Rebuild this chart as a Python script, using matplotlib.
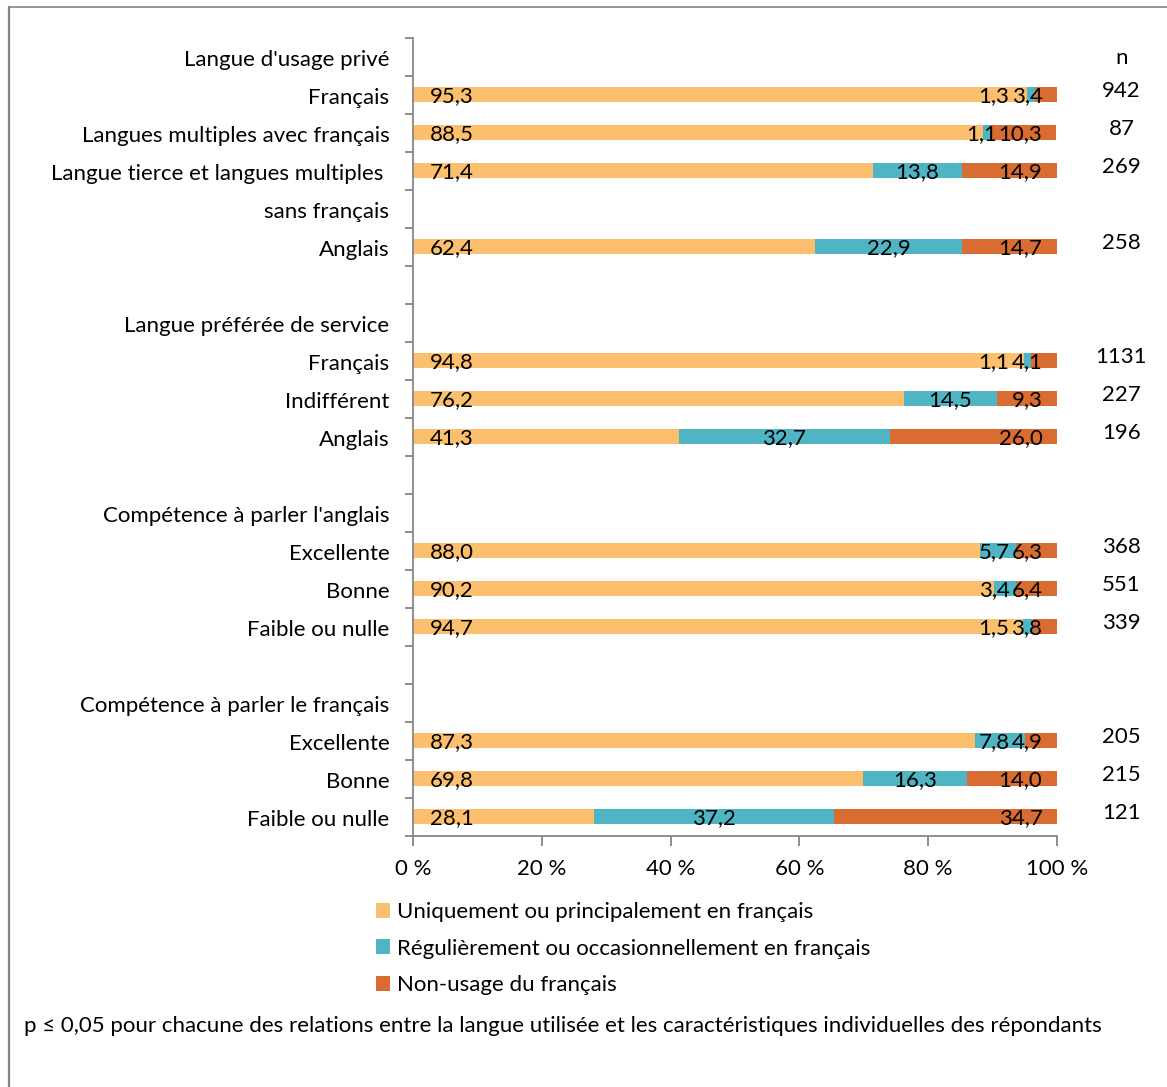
import numpy as np
import matplotlib
matplotlib.use('Agg')
import matplotlib.pyplot as plt
from matplotlib.patches import Patch
from matplotlib.lines import Line2D

plt.rcParams['font.family'] = ['Lato', 'DejaVu Sans']

# rows from top to bottom, None = row without bar
categories = ["Langue d'usage privé", "Français", "Langues multiples avec français",
              "Langue tierce et langues multiples ", "sans français", "Anglais", "",
              "Langue préférée de service", "Français", "Indifférent", "Anglais", "",
              "Compétence à parler l'anglais", "Excellente", "Bonne", "Faible ou nulle", "",
              "Compétence à parler le français", "Excellente", "Bonne", "Faible ou nulle"]
uniquement = [None, 95.3, 88.5, 71.4, None, 62.4, None,
              None, 94.8, 76.2, 41.3, None,
              None, 88.0, 90.2, 94.7, None,
              None, 87.3, 69.8, 28.1]
regulier = [None, 1.3, 1.1, 13.8, None, 22.9, None,
            None, 1.1, 14.5, 32.7, None,
            None, 5.7, 3.4, 1.5, None,
            None, 7.8, 16.3, 37.2]
non_usage = [None, 3.4, 10.3, 14.9, None, 14.7, None,
             None, 4.1, 9.3, 26.0, None,
             None, 6.3, 6.4, 3.8, None,
             None, 4.9, 14.0, 34.7]
n_values = [None, 942, 87, 269, None, 258, None,
            None, 1131, 227, 196, None,
            None, 368, 551, 339, None,
            None, 205, 215, 121]
series_names = ["Uniquement ou principalement en français",
                "Régulièrement ou occasionnellement en français",
                "Non-usage du français"]
colors = ['#FCBF6E', '#4FB4C3', '#D96C30']
footnote = "p ≤ 0,05 pour chacune des relations entre la langue utilisée et les caractéristiques individuelles des répondants"

W, H = 1167, 1087
fs = 16
fig = plt.figure(figsize=(W / 100, H / 100), dpi=100)
ax = fig.add_axes([413 / W, 1 - 835.5 / H, 644 / W, 798 / H])

nrows = len(categories)
ypos = np.arange(nrows)
rows = [i for i in range(nrows) if uniquement[i] is not None]
y = np.array([ypos[i] for i in rows])
s1 = np.array([uniquement[i] for i in rows])
s2 = np.array([regulier[i] for i in rows])
s3 = np.array([non_usage[i] for i in rows])

h = 0.4
ax.barh(y, s1, height=h, color=colors[0], linewidth=0)
ax.barh(y, s2, left=s1, height=h, color=colors[1], linewidth=0)
ax.barh(y, s3, left=s1 + s2, height=h, color=colors[2], linewidth=0)

ax.set_xlim(0, 100)
ax.set_ylim(nrows - 0.5, -0.5)

gray = '#868686'
for side in ['top', 'right']:
    ax.spines[side].set_visible(False)
for side in ['left', 'bottom']:
    ax.spines[side].set_color(gray)
    ax.spines[side].set_linewidth(1.3)

ax.set_xticks(np.arange(0, 101, 20))
ax.set_xticklabels([f"{v} %" for v in range(0, 101, 20)], fontsize=fs)
ax.tick_params(axis='x', length=7, width=1.3, color=gray, pad=10)

ax.set_yticks(np.arange(-0.5, nrows, 1))
ax.set_yticklabels([])
ax.tick_params(axis='y', which='major', length=6, width=1.3, color=gray)
ax.set_yticks(ypos + 0.03, minor=True)
ax.set_yticklabels(categories, minor=True, fontsize=fs)
ax.tick_params(axis='y', which='minor', length=0, pad=17)

# data labels
fig.canvas.draw()
renderer = fig.canvas.get_renderer()
for yy, a, b, c in zip(y, s1, s2, s3):
    ax.annotate(f"{a:.1f}".replace('.', ','), (0, yy), xytext=(12, -1.5),
                textcoords='offset points', ha='left', va='center', fontsize=fs)
    t3 = ax.annotate(f"{c:.1f}".replace('.', ','), (100, yy), xytext=(-10.5, -1.5),
                     textcoords='offset points', ha='right', va='center', fontsize=fs)
    t2 = ax.annotate(f"{b:.1f}".replace('.', ','), (a + b / 2, yy), xytext=(0, -1.5),
                     textcoords='offset points', ha='center', va='center', fontsize=fs)
    e2 = t2.get_window_extent(renderer)
    e3 = t3.get_window_extent(renderer)
    if e2.x1 > e3.x0 - 2:
        xr = ax.transData.inverted().transform((e3.x0 - 2, 0))[0]
        t2.xy = (xr, yy)
        t2.set_ha('right')

# n column
ax.text(1.1, 0.03, "n", transform=ax.get_yaxis_transform(), ha='center', va='center', fontsize=fs)
for i in rows:
    ax.text(1.1, ypos[i] - 0.08, str(n_values[i]), transform=ax.get_yaxis_transform(),
            ha='center', va='center', fontsize=fs)

handles = [Patch(facecolor=col, edgecolor='none') for col in colors]
fig.legend(handles, series_names, loc='upper left', bbox_to_anchor=(376 / W, 1 - 902 / H),
           frameon=False, fontsize=fs, handlelength=0.65, handleheight=0.65,
           handletextpad=0.3, labelspacing=0.75, borderpad=0, borderaxespad=0)

fig.text(24 / W, 1 - 1026 / H, footnote, ha='left', va='center', fontsize=fs)

# outer frame (left and top edges visible)
fig.add_artist(Line2D([8.5 / W, 8.5 / W], [0, 1 - 7 / H], color=gray, lw=1.6))
fig.add_artist(Line2D([8.5 / W, 1], [1 - 7 / H, 1 - 7 / H], color=gray, lw=1.2))

fig.savefig('out.png', dpi=100)
